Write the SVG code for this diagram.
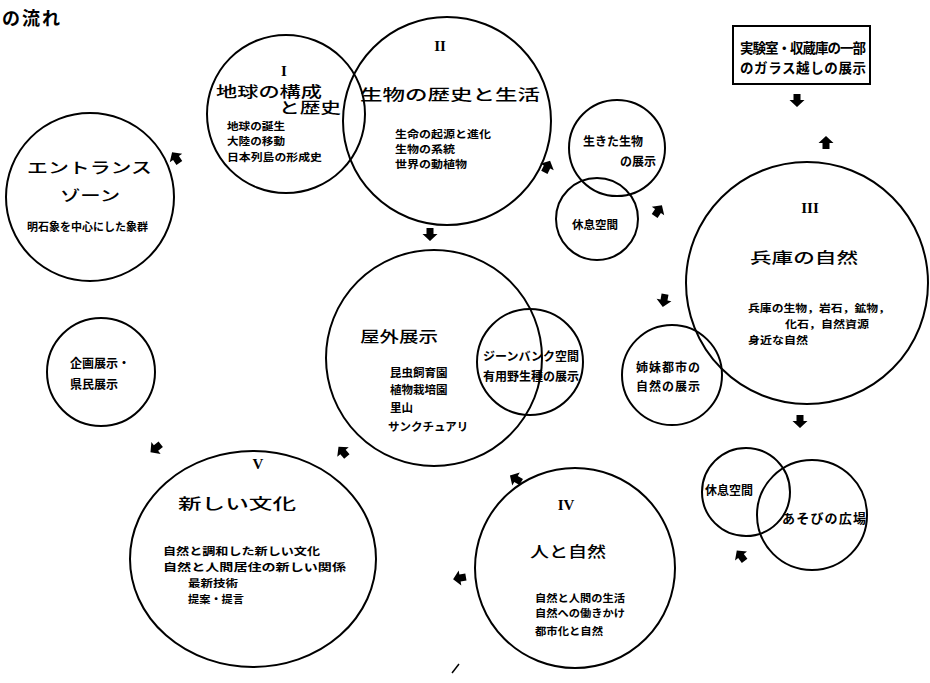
<svg xmlns="http://www.w3.org/2000/svg" width="930" height="683" viewBox="0 0 930 683">
<style>
.c{fill:none;stroke:#000;stroke-width:2}
.h{font-family:"Noto Sans CJK JP","Noto Sans CJK SC",sans-serif;font-size:15px;font-weight:500;fill:#000;dominant-baseline:central}
.s{font-family:"Noto Sans CJK JP","Noto Sans CJK SC",sans-serif;font-size:12px;font-weight:700;fill:#000;dominant-baseline:central}
.t{font-family:"Noto Sans CJK JP","Noto Sans CJK SC",sans-serif;font-size:10.5px;font-weight:700;fill:#000;dominant-baseline:central}
.r{font-family:"Liberation Serif",serif;font-size:15px;font-weight:700;fill:#000;text-anchor:middle;dominant-baseline:central}
.a{fill:#000}
</style>
<defs>
<path id="ar" d="M-6,-3.5 L0,-3.5 L0,-7.5 L7,0 L0,7.5 L0,3.5 L-6,3.5 Z"/>
</defs>
<rect width="930" height="683" fill="#fff"/>
<text class="s" x="2" y="17" style="font-size:18px" textLength="58">の流れ</text>

<g id="entrance">
<circle class="c" cx="90" cy="197" r="84"/>
<text class="h" x="27" y="166" textLength="125" lengthAdjust="spacingAndGlyphs">エントランス</text>
<text class="h" x="60" y="194" textLength="60" lengthAdjust="spacingAndGlyphs">ゾーン</text>
<text class="s" x="27" y="226" style="font-size:11px" textLength="121">明石象を中心にした象群</text>
</g>

<g id="zone1">
<circle class="c" cx="286" cy="114" r="79"/>
<text class="r" x="284" y="71">I</text>
<text class="h" x="216" y="90" textLength="106" lengthAdjust="spacingAndGlyphs">地球の構成</text>
<text class="h" x="279" y="106" textLength="62" lengthAdjust="spacingAndGlyphs">と歴史</text>
<text class="t" x="227" y="125" textLength="58" lengthAdjust="spacingAndGlyphs">地球の誕生</text>
<text class="t" x="227" y="140" textLength="58" lengthAdjust="spacingAndGlyphs">大陸の移動</text>
<text class="t" x="227" y="156" textLength="95" lengthAdjust="spacingAndGlyphs">日本列島の形成史</text>
</g>

<g id="zone2">
<circle class="c" cx="447" cy="121" r="104"/>
<text class="r" x="440" y="46">II</text>
<text class="h" x="360" y="93" textLength="180" lengthAdjust="spacingAndGlyphs">生物の歴史と生活</text>
<text class="t" x="395" y="133" textLength="96" lengthAdjust="spacingAndGlyphs">生命の起源と進化</text>
<text class="t" x="395" y="148" textLength="60" lengthAdjust="spacingAndGlyphs">生物の系統</text>
<text class="t" x="395" y="163" textLength="72" lengthAdjust="spacingAndGlyphs">世界の動植物</text>
</g>

<g id="glassbox">
<rect x="733" y="26" width="137" height="58" fill="none" stroke="#000" stroke-width="2"/>
<text class="s" x="740" y="47" style="font-size:13.5px" textLength="126">実験室・収蔵庫の一部</text>
<text class="s" x="740" y="67" style="font-size:13.5px" textLength="126">のガラス越しの展示</text>
</g>

<g id="living">
<circle class="c" cx="617" cy="148" r="48"/>
<text class="s" x="583" y="140">生きた生物</text>
<text class="s" x="620" y="160">の展示</text>
</g>

<g id="rest1">
<circle class="c" cx="597" cy="219" r="41"/>
<text class="s" x="572" y="224" style="font-size:11.5px">休息空間</text>
</g>

<g id="zone3">
<circle class="c" cx="807" cy="283" r="121"/>
<text class="r" x="810" y="208">III</text>
<text class="h" x="750" y="256" textLength="108" lengthAdjust="spacingAndGlyphs">兵庫の自然</text>
<text class="t" x="748" y="307" textLength="142" lengthAdjust="spacingAndGlyphs">兵庫の生物，岩石，鉱物，</text>
<text class="t" x="785" y="323" textLength="84" lengthAdjust="spacingAndGlyphs">化石，自然資源</text>
<text class="t" x="748" y="339" textLength="60" lengthAdjust="spacingAndGlyphs">身近な自然</text>
</g>

<g id="sister">
<circle class="c" cx="672" cy="375" r="50"/>
<text class="s" x="636" y="366" textLength="64">姉妹都市の</text>
<text class="s" x="636" y="385" textLength="64">自然の展示</text>
</g>

<g id="outdoor">
<circle class="c" cx="434" cy="358" r="108"/>
<text class="h" x="360" y="335" textLength="78" lengthAdjust="spacingAndGlyphs">屋外展示</text>
<text class="s" x="390" y="372" style="font-size:11.5px">昆虫飼育園</text>
<text class="s" x="390" y="389" style="font-size:11.5px">植物栽培園</text>
<text class="s" x="390" y="407" style="font-size:11.5px">里山</text>
<text class="s" x="388" y="426" style="font-size:11.5px">サンクチュアリ</text>
</g>

<g id="genebank">
<circle class="c" cx="530" cy="362" r="53"/>
<text class="s" x="483" y="355">ジーンバンク空間</text>
<text class="s" x="483" y="375">有用野生種の展示</text>
</g>

<g id="special">
<circle class="c" cx="101" cy="372" r="54"/>
<text class="s" x="70" y="362">企画展示・</text>
<text class="s" x="70" y="383">県民展示</text>
</g>

<g id="zone5">
<ellipse class="c" cx="253" cy="559" rx="123" ry="108"/>
<text class="r" x="258" y="464">V</text>
<text class="h" x="178" y="502" textLength="118" lengthAdjust="spacingAndGlyphs">新しい文化</text>
<text class="t" x="163" y="550" textLength="157" lengthAdjust="spacingAndGlyphs">自然と調和した新しい文化</text>
<text class="t" x="163" y="566" textLength="183" lengthAdjust="spacingAndGlyphs">自然と人間居住の新しい関係</text>
<text class="t" x="188" y="582" textLength="50" lengthAdjust="spacingAndGlyphs">最新技術</text>
<text class="t" x="188" y="598" textLength="56" lengthAdjust="spacingAndGlyphs">提案・提言</text>
</g>

<g id="zone4">
<circle class="c" cx="575" cy="568" r="100"/>
<text class="r" x="566" y="505">IV</text>
<text class="h" x="530" y="550" textLength="76" lengthAdjust="spacingAndGlyphs">人と自然</text>
<text class="t" x="535" y="597" textLength="90" lengthAdjust="spacingAndGlyphs">自然と人間の生活</text>
<text class="t" x="535" y="612" textLength="90" lengthAdjust="spacingAndGlyphs">自然への働きかけ</text>
<text class="t" x="535" y="630" textLength="68" lengthAdjust="spacingAndGlyphs">都市化と自然</text>
</g>

<g id="rest2">
<circle class="c" cx="746" cy="492" r="44"/>
<text class="s" x="705" y="489">休息空間</text>
</g>

<g id="playground">
<circle class="c" cx="812" cy="515" r="55"/>
<text class="s" x="782" y="517" style="font-size:13px" textLength="84">あそびの広場</text>
</g>

<g id="connectors" class="a">
<use href="#ar" transform="translate(176,158) rotate(-124)"/>
<use href="#ar" transform="translate(430,234) rotate(90)"/>
<use href="#ar" transform="translate(547,167) rotate(-64)"/>
<use href="#ar" transform="translate(658,211) rotate(-56)"/>
<use href="#ar" transform="translate(797,100) rotate(90)"/>
<use href="#ar" transform="translate(826,143) rotate(-90)"/>
<use href="#ar" transform="translate(664,300) rotate(100)"/>
<use href="#ar" transform="translate(800,421) rotate(90)"/>
<use href="#ar" transform="translate(741,556) rotate(-127)"/>
<use href="#ar" transform="translate(516,479) rotate(-150)"/>
<use href="#ar" transform="translate(343,452) rotate(-130)"/>
<use href="#ar" transform="translate(460,578) rotate(170)"/>
<use href="#ar" transform="translate(156,448) rotate(142)"/>
<line x1="452" y1="673" x2="459" y2="664" stroke="#000" stroke-width="1.5"/>
</g>
</svg>
